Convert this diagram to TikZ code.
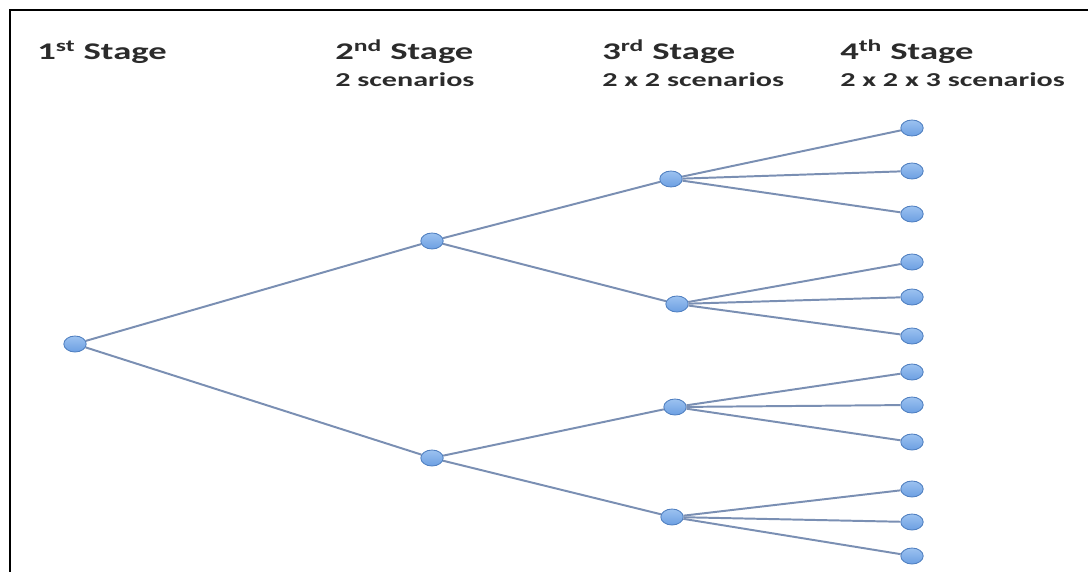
\documentclass[tikz,border=0pt]{standalone}
\usepackage{fontspec}
\newfontfamily\headfont[FakeStretch=1.53]{Carlito}
\usepackage{tikz}
\usetikzlibrary{positioning, shapes.geometric}
\definecolor{nodefill}{HTML}{6C9FE2}
\definecolor{nodetop}{HTML}{9CC2F0}
\definecolor{nodeedge}{HTML}{4F7FC0}
\definecolor{edgeblue}{HTML}{7A8FB3}
\definecolor{headtext}{HTML}{2B2B2B}
\tikzset{
  scen/.style  = {ellipse, draw=nodeedge, line width=0.6pt, top color=nodetop,
                  bottom color=nodefill, minimum width=5.6mm, minimum height=4.0mm,
                  inner sep=0pt},
  br/.style    = {draw=edgeblue, line width=1.4pt},
  stg/.style   = {anchor=base west, inner sep=0pt, text=headtext,
                  font=\headfont\bfseries\fontsize{17}{19}\selectfont},
  cnt/.style   = {anchor=base west, inner sep=0pt, text=headtext,
                  font=\headfont\bfseries\fontsize{14}{16}\selectfont},
  frm/.style   = {line width=1.4pt, black},
}

\begin{document}
\begin{tikzpicture}[x=0.025cm, y=-0.025cm]
  \useasboundingbox (0,0) rectangle (1088,572);
  \draw[frm] (10,572) -- (10,10) -- (1088,10);

  % stage headings
  \node[stg] (h1) at (37,60)  {1\textsuperscript{st} Stage};
  \node[stg] (h2) at (335,60) {2\textsuperscript{nd} Stage};
  \node[cnt] (c2) at (335,87) {2 scenarios};
  \node[stg] (h3) at (602,60) {3\textsuperscript{rd} Stage};
  \node[cnt] (c3) at (602,87) {2 x 2 scenarios};
  \node[stg] (h4) at (840,60) {4\textsuperscript{th} Stage};
  \node[cnt] (c4) at (840,87) {2 x 2 x 3 scenarios};

  % first and second stage
  \node[scen] (r)  at (75,344)  {};
  \node[scen] (a)  at (432,241) {};
  \node[scen] (b)  at (432,458) {};

  % third stage
  \node[scen] (aa) at (671,179) {};
  \node[scen] (ab) at (677,304) {};
  \node[scen] (ba) at (675,407) {};
  \node[scen] (bb) at (672,517) {};

  % fourth stage
  \node[scen] (aa1) at (912,128) {};
  \node[scen] (aa2) at (912,171) {};
  \node[scen] (aa3) at (912,214) {};
  \node[scen] (ab1) at (912,262) {};
  \node[scen] (ab2) at (912,297) {};
  \node[scen] (ab3) at (912,336) {};
  \node[scen] (ba1) at (912,372) {};
  \node[scen] (ba2) at (912,405) {};
  \node[scen] (ba3) at (912,442) {};
  \node[scen] (bb1) at (912,489) {};
  \node[scen] (bb2) at (912,522) {};
  \node[scen] (bb3) at (912,556) {};

  % branches
  \draw[br] (r) -- (a);   \draw[br] (r) -- (b);
  \draw[br] (a) -- (aa);  \draw[br] (a) -- (ab);
  \draw[br] (b) -- (ba);  \draw[br] (b) -- (bb);
  \draw[br] (aa) -- (aa1); \draw[br] (aa) -- (aa2); \draw[br] (aa) -- (aa3);
  \draw[br] (ab) -- (ab1); \draw[br] (ab) -- (ab2); \draw[br] (ab) -- (ab3);
  \draw[br] (ba) -- (ba1); \draw[br] (ba) -- (ba2); \draw[br] (ba) -- (ba3);
  \draw[br] (bb) -- (bb1); \draw[br] (bb) -- (bb2); \draw[br] (bb) -- (bb3);
\end{tikzpicture}
\end{document}
